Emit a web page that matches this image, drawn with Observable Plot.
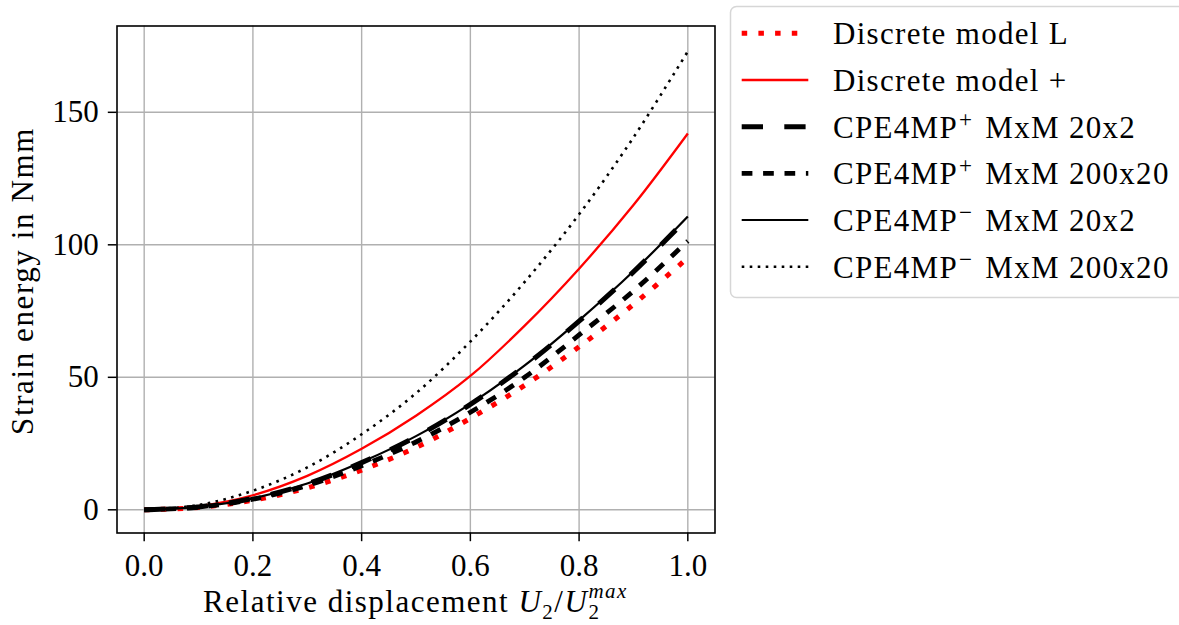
<!DOCTYPE html>
<html><head><meta charset="utf-8">
<script src="https://cdn.jsdelivr.net/npm/d3@7"></script>
<script src="https://cdn.jsdelivr.net/npm/@observablehq/plot@0.6"></script>
<style>html,body{margin:0;padding:0;background:#fff} svg{display:block}</style>
</head><body><div id="chart"></div>
<script>
// ---- data ----
const xValues = [0, 0.1, 0.2, 0.3, 0.4, 0.5, 0.6, 0.7, 0.8, 0.9, 1.0];
const discreteL      = [0, 0.9, 3.6, 8.3, 15.0, 23.5, 34.5, 47.0, 61.5, 77.5, 95.1];
const discretePlus   = [0, 1.4, 5.5, 12.8, 23.0, 35.5, 50.5, 69.5, 91.0, 115.0, 142.0];
const cpePlus20x2    = [0, 1.1, 4.3, 9.8, 17.8, 27.6, 39.8, 54.3, 71.2, 89.8, 110.2];
const cpePlus200x20  = [0, 1.0, 4.0, 9.2, 16.6, 25.6, 36.8, 50.0, 66.0, 82.6, 101.4];
const cpeMinus20x2   = [0, 1.1, 4.3, 9.9, 18.0, 27.8, 40.0, 54.5, 71.5, 90.0, 110.7];
const cpeMinus200x20 = [0, 1.8, 7.2, 16.0, 28.5, 44.0, 63.5, 86.0, 111.5, 140.5, 173.0];
const seriesNames = [
  {base: "Discrete model L", sup: "", rest: ""},
  {base: "Discrete model +", sup: "", rest: ""},
  {base: "CPE4MP", sup: "+", rest: " MxM 20x2"},
  {base: "CPE4MP", sup: "+", rest: " MxM 200x20"},
  {base: "CPE4MP", sup: "\u2212", rest: " MxM 20x2"},
  {base: "CPE4MP", sup: "\u2212", rest: " MxM 200x20"}
];
const xTicks = [0, 0.2, 0.4, 0.6, 0.8, 1.0];
const xTickLabels = ["0.0", "0.2", "0.4", "0.6", "0.8", "1.0"];
const yTicks = [0, 50, 100, 150];
const yTickLabels = ["0", "50", "100", "150"];
const yLabel = "Strain energy in Nmm";
const xLabelText = "Relative displacement ";

// ---- styles ----
const seriesValues = [discreteL, discretePlus, cpePlus20x2, cpePlus200x20, cpeMinus20x2, cpeMinus200x20];
const styles = [
  {stroke: "#ff0000", width: 5, dash: "5.5 11.2"},
  {stroke: "#ff0000", width: 2.3, dash: null},
  {stroke: "#000000", width: 5, dash: "21.3 21.3"},
  {stroke: "#000000", width: 4.8, dash: "10.7 10.7"},
  {stroke: "#000000", width: 2.2, dash: null},
  {stroke: "#000000", width: 2.6, dash: "2.6 5.4"}
];

const FONT = "'Liberation Serif', 'Times New Roman', serif";

const lineMarks = seriesValues.map((vals, k) =>
  Plot.line(xValues, {
    x: d => d,
    y: (d, i) => vals[i],
    stroke: styles[k].stroke,
    strokeWidth: styles[k].width,
    strokeDasharray: styles[k].dash ?? undefined,
    strokeLinecap: "butt",
    curve: "catmull-rom"
  })
);

const chart = Plot.plot({
  width: 1179,
  height: 625,
  marginLeft: 116.5,
  marginRight: 464.5,
  marginTop: 25.5,
  marginBottom: 92.5,
  style: {fontFamily: FONT, fontSize: "31px", color: "black", background: "white", overflow: "visible"},
  x: {domain: [-0.05, 1.05], axis: null},
  y: {domain: [-8.75, 182.57], axis: null},
  marks: [
    Plot.gridX(xTicks, {stroke: "#b0b0b0", strokeOpacity: 1, strokeWidth: 1.4}),
    Plot.gridY(yTicks, {stroke: "#b0b0b0", strokeOpacity: 1, strokeWidth: 1.4}),
    ...lineMarks,
    Plot.frame({stroke: "black", strokeWidth: 1.6}),
    Plot.axisX(xTicks, {tickSize: 8.7, strokeWidth: 1.5, label: null, tickFormat: () => ""}),
    Plot.axisY(yTicks, {tickSize: 8.7, strokeWidth: 1.5, label: null, tickFormat: () => ""}),
    Plot.text(xTicks, {x: d => d, text: (d, i) => xTickLabels[i], frameAnchor: "bottom",
      dy: 20.5, lineAnchor: "top", textAnchor: "middle", fontSize: 31, fill: "black"}),
    Plot.text(yTicks, {y: d => d, text: (d, i) => yTickLabels[i], frameAnchor: "left",
      dx: -18.2, lineAnchor: "middle", textAnchor: "end", fontSize: 31, fill: "black"})
  ]
});

document.getElementById("chart").appendChild(chart);

const svg = d3.select(chart);

// Y axis label
svg.append("text")
  .attr("transform", "translate(33,281) rotate(-90)")
  .attr("text-anchor", "middle")
  .attr("font-family", FONT)
  .attr("font-size", 31)
  .attr("letter-spacing", 1.6)
  .attr("fill", "black")
  .text(yLabel);

// X axis label with math
const xl = svg.append("text")
  .attr("x", 415.5).attr("y", 612)
  .attr("text-anchor", "middle")
  .attr("font-family", FONT)
  .attr("font-size", 31)
  .attr("letter-spacing", 1.5)
  .attr("fill", "black");
xl.append("tspan").text(xLabelText);
xl.append("tspan").attr("font-style", "italic").text("U");
xl.append("tspan").attr("font-size", 21).attr("dy", 7).text("2");
xl.append("tspan").attr("dy", -7).text("/");
xl.append("tspan").attr("font-style", "italic").text("U");
xl.append("tspan").attr("font-size", 21).attr("dy", 7).text("2");
xl.append("tspan").attr("font-size", 21).attr("font-style", "italic").attr("dx", -12).attr("dy", -21).text("max");

// Legend
const lg = svg.append("g").attr("text-anchor", "start");
lg.append("rect")
  .attr("x", 730.5).attr("y", 6.5).attr("width", 480).attr("height", 291)
  .attr("rx", 6).attr("ry", 6)
  .attr("fill", "white").attr("stroke", "#d6d6d6").attr("stroke-width", 1.5);
const rowY = k => 33.3 + k * 46.68;
seriesNames.forEach((nm, k) => {
  const st = styles[k];
  lg.append("line")
    .attr("x1", 741.7).attr("x2", 808.3)
    .attr("y1", rowY(k)).attr("y2", rowY(k))
    .attr("stroke", st.stroke).attr("stroke-width", st.width)
    .attr("stroke-dasharray", st.dash)
    .attr("stroke-linecap", "butt");
  const t = lg.append("text")
    .attr("x", 833).attr("y", rowY(k) + 11)
    .attr("text-anchor", "start")
    .attr("font-family", FONT).attr("font-size", 31)
    .attr("letter-spacing", 1.3)
    .attr("fill", "black");
  t.append("tspan").text(nm.base);
  if (nm.sup) {
    t.append("tspan").attr("font-size", 23).attr("dx", 1).attr("dy", -11).text(nm.sup);
    t.append("tspan").attr("dx", 3).attr("dy", 11).text(nm.rest);
  }
});
</script>
</body></html>
